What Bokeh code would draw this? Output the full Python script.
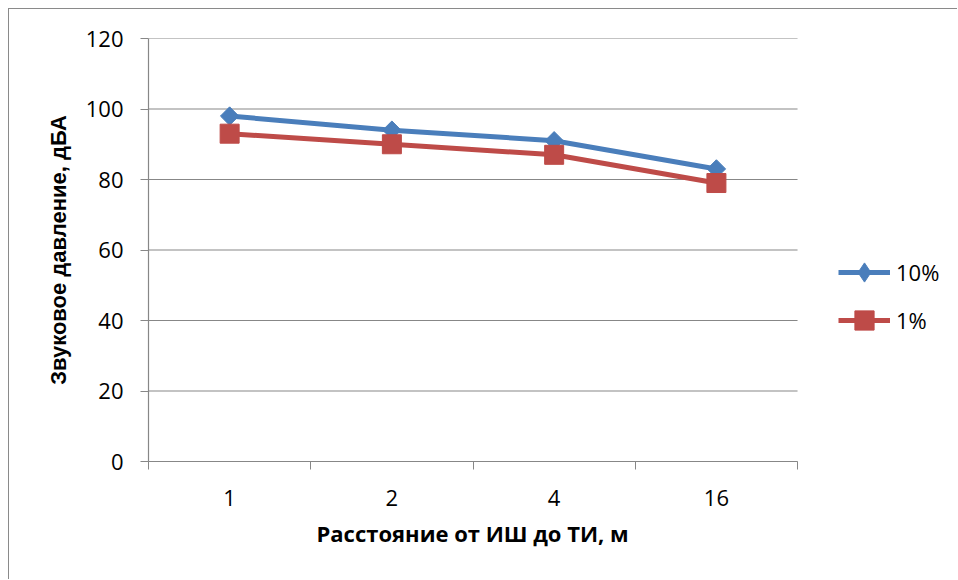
from bokeh.plotting import figure
from bokeh.models import FixedTicker, Legend, LegendItem, ColumnDataSource, Title
from bokeh.embed import file_html
from bokeh.resources import INLINE
import math

# distances (category labels) and sound pressure levels, dBA
distances = ["1", "2", "4", "16"]
level_10 = [98, 94, 91, 83]
level_1 = [93, 90, 87, 79]
series_names = ["10%", "1%"]
y_ticks = [0, 20, 40, 60, 80, 100, 120]

BLUE = "#4A7EBB"
RED = "#BE4B48"
GRID = "#878787"
FONT = "Open Sans"

n = len(distances)
xs = [i + 0.5 for i in range(n)]
src = ColumnDataSource(dict(x=xs, a=level_10, b=level_1))
grid_src = ColumnDataSource(dict(y=y_ticks, x0=[0] * len(y_ticks), x1=[n] * len(y_ticks)))

# the plotting frame also holds the legend on its right-hand side
p = figure(width=949, height=571, output_backend="svg", toolbar_location=None,
           x_range=(0, n * 1.248), y_range=(0, 120),
           min_border_left=139, min_border_right=0,
           min_border_top=29, min_border_bottom=119)
p.margin = (8, 0, 0, 8)
p.styles = {"border-top": "1px solid #8a8a8a", "border-left": "1px solid #8a8a8a"}
p.outline_line_color = None
p.background_fill_color = "white"
p.border_fill_color = "white"

# horizontal gridlines across the category span only
p.xgrid.grid_line_color = None
p.ygrid.grid_line_color = None
p.segment(x0="x0", x1="x1", y0="y", y1="y", source=grid_src,
          line_color=GRID, line_width=1.2)

# category axis: labels at the centres, tick marks at the boundaries
p.xaxis.bounds = (0, n)
p.xaxis.ticker = FixedTicker(ticks=xs, minor_ticks=list(range(n + 1)))
p.xaxis.major_label_overrides = {x: d for x, d in zip(xs, distances)}
p.xaxis.major_tick_out = 0
p.xaxis.major_tick_in = 0
p.xaxis.minor_tick_out = 8
p.xaxis.minor_tick_in = 0
p.xaxis.minor_tick_line_color = GRID
p.xaxis.axis_line_color = GRID
p.xaxis.major_label_standoff = 20

p.yaxis.ticker = FixedTicker(ticks=y_ticks)
p.yaxis.major_tick_out = 8
p.yaxis.major_tick_in = 0
p.yaxis.minor_tick_line_color = None
p.yaxis.major_tick_line_color = GRID
p.yaxis.axis_line_color = GRID
p.yaxis.major_label_standoff = 17
p.yaxis.axis_label = "Звуковое давление, дБА"
p.yaxis.axis_label_standoff = 12

for ax in (p.xaxis, p.yaxis):
    ax.major_label_text_font = FONT
    ax.major_label_text_font_size = "22px"
    ax.major_label_text_color = "black"
    ax.axis_line_width = 1.2
    ax.axis_label_text_font_style = "bold"
    ax.axis_label_text_color = "black"
p.yaxis.axis_label_text_font = "Liberation Sans"
p.yaxis.axis_label_text_font_size = "22px"

# x-axis title, centred under the category span
x_title = Title(text="Расстояние от ИШ до ТИ, м", align="left", offset=168,
                text_font=FONT, text_font_size="22px", text_font_style="bold",
                text_color="black", standoff=14)
p.add_layout(x_title, "below")

l1 = p.line("x", "a", source=src, line_color=BLUE, line_width=5)
m1 = p.scatter("x", "a", source=src, marker="square", angle=math.pi / 4,
               size=13, fill_color=BLUE, line_color=BLUE)
l2 = p.line("x", "b", source=src, line_color=RED, line_width=5)
m2 = p.scatter("x", "b", source=src, marker="square", size=19,
               fill_color=RED, line_color=RED)
# legend key for the first series (legend keys are drawn unrotated)
k1 = p.scatter("x", "a", source=src, marker="diamond", size=19,
               fill_color=BLUE, line_color=BLUE, visible=False)

legend = Legend(items=[LegendItem(label=series_names[0], renderers=[l1, k1]),
                       LegendItem(label=series_names[1], renderers=[l2, m2])],
                location=(690, 117), orientation="vertical")
legend.click_policy = "none"
legend.border_line_color = None
legend.background_fill_alpha = 0
legend.padding = 0
legend.margin = 0
legend.spacing = 0
legend.glyph_width = 52
legend.glyph_height = 48
legend.label_height = 48
legend.label_standoff = 6
legend.label_text_font = FONT
legend.label_text_font_size = "22px"
legend.label_text_color = "black"
p.add_layout(legend, "center")

open("out.html", "w").write(file_html(p, INLINE))
